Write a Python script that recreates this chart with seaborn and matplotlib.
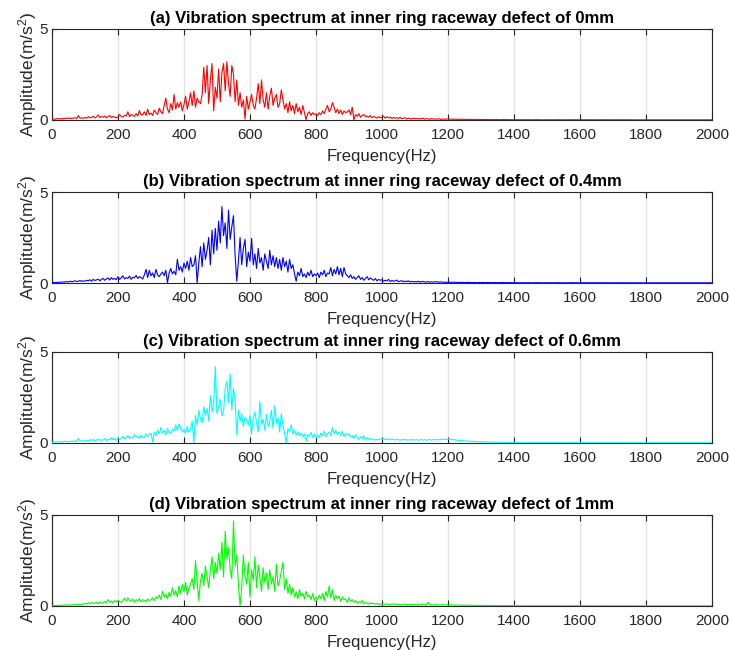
import numpy as np
import pandas as pd
import seaborn as sns
import matplotlib.pyplot as plt

# spectra, one value every 5 Hz from 0 to 1395 Hz
amp_0mm = [
    0.05, 0.06, 0.04, 0.08, 0.07, 0.05, 0.09, 0.06, 0.1, 0.08, 0.12, 0.07, 0.1, 0.09, 0.13, 0.08, 0.25, 0.1, 0.12, 0.09,
    0.14, 0.1, 0.18, 0.12, 0.15, 0.2, 0.11, 0.17, 0.28, 0.13, 0.19, 0.15, 0.22, 0.12, 0.18, 0.25, 0.14, 0.2, 0.16, 0.12,
    0.18, 0.3, 0.2, 0.15, 0.26, 0.22, 0.45, 0.18, 0.3, 0.25, 0.2, 0.35, 0.22, 0.52, 0.28, 0.3, 0.45, 0.25, 0.6, 0.3,
    0.38, 0.25, 0.55, 0.4, 0.3, 0.65, 0.45, 0.35, 0.8, 1.2, 0.6, 0.4, 0.9, 0.55, 1.4, 0.6, 0.95, 0.7, 1.0, 0.5,
    0.85, 1.3, 0.6, 1.0, 1.5, 0.8, 1.6, 0.7, 1.2, 1.0, 0.9, 1.4, 2.9, 1.5, 3.0, 0.9, 2.2, 3.1, 0.5, 1.8,
    1.2, 2.8, 1.0, 2.6, 3.1, 1.6, 3.2, 2.0, 1.3, 3.0, 2.5, 1.0, 2.2, 0.8, 1.5, 0.7, 1.1, 0.05, 1.3, 0.6,
    1.0, 1.4, 0.8, 0.6, 1.2, 2.0, 0.9, 2.2, 1.1, 0.7, 1.5, 0.6, 1.3, 1.75, 0.8, 1.2, 1.4, 0.7, 0.9, 1.65,
    1.1, 0.6, 0.9, 0.4, 1.0, 0.5, 0.8, 0.35, 0.9, 0.45, 0.7, 0.3, 0.8, 0.4, 0.02, 0.35, 0.45, 0.25, 0.4, 0.3,
    0.35, 0.25, 0.4, 0.3, 0.5, 0.35, 0.6, 0.8, 0.45, 0.6, 0.95, 0.7, 0.4, 0.6, 0.35, 0.55, 0.3, 0.5, 0.4, 0.45,
    0.55, 0.3, 0.7, 0.02, 0.3, 0.2, 0.35, 0.15, 0.25, 0.3, 0.18, 0.22, 0.15, 0.25, 0.12, 0.2, 0.15, 0.1, 0.18, 0.12,
    0.15, 0.2, 0.1, 0.18, 0.12, 0.16, 0.08, 0.14, 0.1, 0.12, 0.08, 0.15, 0.07, 0.1, 0.12, 0.06, 0.09, 0.08, 0.05, 0.1,
    0.07, 0.09, 0.05, 0.08, 0.06, 0.1, 0.05, 0.07, 0.06, 0.04, 0.08, 0.05, 0.06, 0.04, 0.07, 0.05, 0.03, 0.06, 0.04, 0.05,
    0.06, 0.04, 0.05, 0.03, 0.05, 0.04, 0.03, 0.05, 0.03, 0.04, 0.03, 0.04, 0.02, 0.04, 0.03, 0.02, 0.04, 0.03, 0.02, 0.03,
    0.03, 0.02, 0.03, 0.02, 0.03, 0.02, 0.02, 0.03, 0.02, 0.02, 0.03, 0.02, 0.02, 0.02, 0.03, 0.02, 0.02, 0.02, 0.02, 0.02,
]

amp_04mm = [
    0.02, 0.03, 0.02, 0.04, 0.03, 0.05, 0.04, 0.06, 0.05, 0.08, 0.06, 0.1, 0.07, 0.09, 0.12, 0.08, 0.1, 0.14, 0.09, 0.12,
    0.1, 0.15, 0.12, 0.18, 0.1, 0.2, 0.14, 0.17, 0.22, 0.12, 0.2, 0.25, 0.15, 0.22, 0.28, 0.16, 0.3, 0.2, 0.25, 0.18,
    0.35, 0.2, 0.28, 0.4, 0.22, 0.3, 0.25, 0.38, 0.2, 0.32, 0.28, 0.42, 0.25, 0.35, 0.3, 0.22, 0.45, 0.75, 0.3, 0.7,
    0.4, 0.55, 0.3, 0.75, 0.45, 0.35, 0.5, 0.6, 0.4, 0.7, 0.02, 0.55, 0.8, 0.5, 0.65, 0.45, 1.3, 0.7, 0.9, 0.6,
    1.1, 0.8, 1.2, 0.7, 1.4, 0.9, 1.0, 1.5, 0.02, 1.1, 2.0, 0.9, 2.2, 1.3, 1.8, 2.5, 1.0, 2.9, 1.6, 3.0,
    1.8, 3.4, 2.2, 4.2, 2.6, 3.3, 1.9, 4.0, 2.4, 3.1, 3.7, 1.5, 0.1, 1.2, 2.5, 1.0, 1.9, 2.4, 0.9, 1.7,
    1.2, 2.45, 1.0, 1.6, 0.8, 1.9, 1.1, 1.4, 0.7, 1.6, 1.2, 0.8, 1.8, 1.0, 1.5, 0.9, 1.4, 0.8, 1.3, 0.7,
    1.4, 0.9, 1.2, 0.6, 1.3, 0.8, 1.0, 0.5, 0.1, 0.6, 0.4, 0.8, 0.35, 0.5, 0.3, 0.6, 0.4, 0.7, 0.35, 0.5,
    0.4, 0.55, 0.3, 0.6, 0.45, 0.7, 0.35, 0.55, 0.5, 0.85, 0.4, 0.75, 0.5, 0.9, 0.45, 0.8, 0.35, 0.85, 0.5, 0.4,
    0.3, 0.45, 0.25, 0.35, 0.2, 0.3, 0.4, 0.2, 0.3, 0.15, 0.25, 0.35, 0.18, 0.28, 0.2, 0.15, 0.25, 0.12, 0.2, 0.15,
    0.18, 0.1, 0.15, 0.12, 0.2, 0.08, 0.14, 0.1, 0.12, 0.16, 0.08, 0.1, 0.13, 0.07, 0.1, 0.08, 0.12, 0.06, 0.09, 0.07,
    0.08, 0.06, 0.1, 0.05, 0.07, 0.09, 0.05, 0.06, 0.08, 0.04, 0.07, 0.05, 0.06, 0.08, 0.04, 0.05, 0.06, 0.04, 0.05, 0.03,
    0.05, 0.04, 0.03, 0.05, 0.04, 0.03, 0.04, 0.02, 0.04, 0.03, 0.02, 0.03, 0.04, 0.02, 0.03, 0.02, 0.03, 0.02, 0.02, 0.03,
    0.02, 0.03, 0.02, 0.02, 0.03, 0.02, 0.02, 0.02, 0.03, 0.02, 0.02, 0.02, 0.02, 0.03, 0.02, 0.02, 0.02, 0.02, 0.02, 0.02,
]

amp_06mm = [
    0.03, 0.05, 0.04, 0.06, 0.05, 0.08, 0.06, 0.07, 0.1, 0.06, 0.09, 0.07, 0.12, 0.08, 0.1, 0.09, 0.25, 0.1, 0.13, 0.08,
    0.12, 0.15, 0.1, 0.18, 0.13, 0.2, 0.12, 0.16, 0.22, 0.14, 0.18, 0.15, 0.25, 0.13, 0.2, 0.17, 0.3, 0.18, 0.22, 0.15,
    0.3, 0.2, 0.25, 0.35, 0.22, 0.3, 0.4, 0.25, 0.32, 0.28, 0.45, 0.3, 0.38, 0.25, 0.42, 0.35, 0.3, 0.5, 0.35, 0.45,
    0.55, 0.05, 0.6, 0.4, 0.7, 0.5, 0.85, 0.55, 0.7, 0.45, 0.8, 0.6, 0.5, 0.75, 0.65, 1.0, 0.7, 1.05, 0.8, 0.6,
    0.75, 0.55, 0.9, 0.6, 0.8, 1.2, 0.02, 1.5, 1.0, 1.8, 1.3, 1.1, 2.0, 1.5, 1.9, 1.2, 2.6, 1.7, 2.2, 4.2,
    1.6, 2.0, 2.4, 1.5, 1.7, 3.0, 3.4, 2.2, 3.8, 1.8, 3.0, 2.4, 0.45, 1.8, 1.2, 1.6, 0.9, 1.4, 1.3, 1.0,
    1.5, 0.5, 1.4, 1.7, 1.1, 0.6, 2.3, 1.0, 1.3, 0.7, 1.6, 0.9, 1.2, 1.8, 0.8, 2.05, 1.1, 1.4, 0.6, 1.6,
    1.0, 0.5, 0.02, 0.8, 0.6, 1.0, 0.5, 0.7, 0.45, 0.6, 0.4, 0.55, 0.35, 0.5, 0.1, 0.45, 0.35, 0.6, 0.3, 0.5,
    0.25, 0.45, 0.3, 0.55, 0.4, 0.65, 0.35, 0.5, 0.6, 0.4, 0.85, 0.5, 0.7, 0.45, 0.6, 0.4, 0.65, 0.35, 0.55, 0.45,
    0.5, 0.35, 0.4, 0.25, 0.45, 0.3, 0.2, 0.35, 0.25, 0.4, 0.15, 0.3, 0.2, 0.25, 0.18, 0.22, 0.15, 0.2, 0.18, 0.22,
    0.2, 0.25, 0.18, 0.22, 0.2, 0.17, 0.21, 0.19, 0.16, 0.2, 0.18, 0.15, 0.19, 0.17, 0.2, 0.16, 0.18, 0.15, 0.19, 0.17,
    0.16, 0.18, 0.15, 0.17, 0.19, 0.16, 0.18, 0.15, 0.17, 0.19, 0.16, 0.18, 0.2, 0.17, 0.19, 0.16, 0.2, 0.18, 0.21, 0.19,
    0.22, 0.18, 0.2, 0.17, 0.19, 0.15, 0.16, 0.13, 0.14, 0.11, 0.12, 0.1, 0.11, 0.09, 0.1, 0.08, 0.09, 0.07, 0.08, 0.06,
    0.07, 0.06, 0.06, 0.05, 0.06, 0.05, 0.05, 0.04, 0.05, 0.04, 0.04, 0.04, 0.03, 0.04, 0.03, 0.03, 0.04, 0.03, 0.03, 0.03,
]

amp_1mm = [
    0.02, 0.03, 0.02, 0.03, 0.04, 0.03, 0.05, 0.04, 0.06, 0.05, 0.04, 0.07, 0.05, 0.08, 0.06, 0.09, 0.07, 0.1, 0.08, 0.12,
    0.15, 0.1, 0.18, 0.12, 0.2, 0.14, 0.16, 0.2, 0.12, 0.22, 0.18, 0.15, 0.25, 0.17, 0.35, 0.2, 0.28, 0.18, 0.3, 0.22,
    0.32, 0.25, 0.2, 0.3, 0.42, 0.28, 0.45, 0.3, 0.25, 0.38, 0.2, 0.35, 0.28, 0.4, 0.22, 0.35, 0.3, 0.25, 0.38, 0.3,
    0.35, 0.45, 0.3, 0.5, 0.4, 0.6, 0.35, 0.8, 0.5, 0.65, 0.4, 0.75, 0.55, 1.0, 0.6, 0.85, 0.5, 1.1, 0.7, 1.2,
    0.8, 1.3, 0.6, 1.0, 1.2, 1.5, 0.9, 2.5, 1.3, 0.3, 1.4, 1.8, 1.1, 2.2, 1.6, 1.0, 2.0, 2.7, 1.5, 2.4,
    1.8, 2.9, 2.0, 3.5, 1.6, 4.1, 2.6, 3.2, 2.0, 1.5, 4.67, 2.2, 2.8, 1.2, 0.02, 1.0, 2.8, 1.7, 1.2, 2.4,
    0.5, 2.0, 1.4, 2.7, 1.0, 2.25, 1.6, 0.8, 2.1, 1.3, 1.8, 0.9, 2.0, 1.2, 1.6, 0.8, 2.3, 1.1, 1.4, 1.9,
    2.4, 0.9, 1.5, 0.7, 1.2, 0.6, 1.0, 0.5, 0.8, 0.4, 0.9, 0.55, 0.7, 0.4, 0.8, 0.5, 0.6, 0.35, 0.7, 0.3,
    0.5, 0.35, 0.6, 0.4, 0.7, 0.3, 0.8, 0.5, 1.1, 0.45, 0.9, 0.3, 0.6, 0.4, 0.55, 0.25, 0.5, 0.35, 0.4, 0.2,
    0.45, 0.25, 0.35, 0.2, 0.3, 0.15, 0.25, 0.18, 0.3, 0.12, 0.2, 0.15, 0.1, 0.18, 0.12, 0.15, 0.1, 0.14, 0.08, 0.12,
    0.1, 0.13, 0.08, 0.12, 0.1, 0.07, 0.11, 0.09, 0.12, 0.07, 0.1, 0.08, 0.06, 0.09, 0.11, 0.07, 0.08, 0.06, 0.1, 0.07,
    0.08, 0.06, 0.09, 0.05, 0.07, 0.1, 0.06, 0.08, 0.2, 0.06, 0.07, 0.05, 0.08, 0.06, 0.07, 0.05, 0.06, 0.08, 0.05, 0.07,
    0.06, 0.08, 0.05, 0.07, 0.04, 0.06, 0.05, 0.04, 0.06, 0.03, 0.05, 0.04, 0.03, 0.05, 0.04, 0.03, 0.04, 0.03, 0.04, 0.03,
    0.03, 0.04, 0.03, 0.02, 0.04, 0.03, 0.02, 0.03, 0.03, 0.02, 0.03, 0.02, 0.03, 0.02, 0.02, 0.03, 0.02, 0.02, 0.03, 0.02,
]

# flat tail from 1400 to 2000 Hz, same for all four cases
tail = [
    0.02, 0.015, 0.02, 0.015, 0.01, 0.02, 0.015, 0.01, 0.015, 0.02, 0.01, 0.015, 0.01, 0.015, 0.02, 0.01, 0.015, 0.01, 0.01, 0.015,
    0.015, 0.01, 0.02, 0.01, 0.015, 0.01, 0.015, 0.02, 0.01, 0.01, 0.015, 0.01, 0.015, 0.01, 0.01, 0.015, 0.02, 0.01, 0.015, 0.01,
    0.01, 0.015, 0.01, 0.01, 0.015, 0.01, 0.02, 0.01, 0.015, 0.01, 0.01, 0.015, 0.01, 0.015, 0.01, 0.01, 0.015, 0.01, 0.01, 0.015,
    0.01, 0.01, 0.015, 0.01, 0.01, 0.015, 0.01, 0.01, 0.015, 0.01, 0.01, 0.01, 0.015, 0.01, 0.01, 0.015, 0.01, 0.01, 0.01, 0.015,
    0.01, 0.015, 0.01, 0.01, 0.01, 0.015, 0.01, 0.01, 0.015, 0.01, 0.01, 0.01, 0.015, 0.01, 0.01, 0.01, 0.015, 0.01, 0.01, 0.01,
    0.015, 0.01, 0.01, 0.01, 0.015, 0.01, 0.01, 0.01, 0.01, 0.015, 0.01, 0.01, 0.01, 0.015, 0.01, 0.01, 0.01, 0.01, 0.015, 0.01,
    0.01,
]

titles = [
    '(a) Vibration spectrum at inner ring raceway defect of 0mm',
    '(b) Vibration spectrum at inner ring raceway defect of 0.4mm',
    '(c) Vibration spectrum at inner ring raceway defect of 0.6mm',
    '(d) Vibration spectrum at inner ring raceway defect of 1mm',
]
colors = ['#ff0000', '#0000ff', '#00ffff', '#00ff00']
series = [amp_0mm, amp_04mm, amp_06mm, amp_1mm]
xticks = list(range(0, 2001, 200))

sns.set_style('white')
plt.rcParams['font.family'] = ['Liberation Sans', 'DejaVu Sans']
plt.rcParams['mathtext.fontset'] = 'custom'
plt.rcParams['mathtext.rm'] = 'Liberation Sans'
plt.rcParams['mathtext.it'] = 'Liberation Sans:italic'

fig = plt.figure(figsize=(7.29, 6.5), dpi=100)
bottoms = [0.8154, 0.5646, 0.3185, 0.0677]
dark = '#262626'

for amp, col, title, b in zip(series, colors, titles, bottoms):
    assert len(amp) == 280, len(amp)
    vals = amp + tail
    df = pd.DataFrame({'freq': np.arange(len(vals)) * 5, 'amp': vals})
    ax = fig.add_axes([0.0713, b, 0.9053, 0.140])
    sns.lineplot(data=df, x='freq', y='amp', ax=ax, color=col, linewidth=0.8, zorder=3)
    ax.set_xlim(0, 2000)
    ax.set_ylim(0, 5)
    ax.set_xticks(xticks)
    ax.set_yticks([0, 5])
    ax.xaxis.grid(True, color='#e3e3e3', linewidth=1.0)
    ax.yaxis.grid(False)
    ax.set_axisbelow(True)
    for s in ax.spines.values():
        s.set_visible(True)
        s.set_color(dark)
        s.set_linewidth(0.8)
    ax.tick_params(axis='x', direction='in', top=True, bottom=True, length=4, width=0.8,
                   color=dark, labelsize=11, labelcolor=dark, pad=6)
    ax.tick_params(axis='y', direction='in', left=True, right=True, length=4, width=0.8,
                   color=dark, labelsize=11, labelcolor=dark, pad=3)
    ax.set_title(title, fontsize=12, fontweight='bold', color='black', pad=4)
    ax.set_xlabel('Frequency(Hz)', fontsize=12, color=dark, labelpad=5)
    ax.set_ylabel('Amplitude(m/s$^{2}$)', fontsize=12.5, color=dark, labelpad=0)

fig.savefig('out.png', dpi=100)
